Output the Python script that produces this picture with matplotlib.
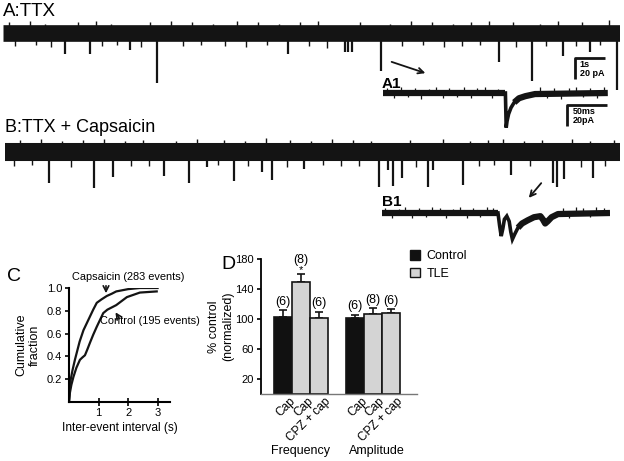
import numpy as np
import matplotlib.pyplot as plt
from matplotlib.patches import Patch

plt.rcParams['font.family'] = ['Liberation Sans', 'DejaVu Sans']

W, H = 624, 461
PPA = 1.05          # pixels per pA in the traces
INK = '#141414'

# ---- trace A: TTX (time s, amplitude pA) ----
a_event_t = [2.07, 2.9, 4.23, 5.13, 9.5, 11.4, 11.5, 11.63, 12.6, 16.53, 17.63, 18.67, 19.57, 20.47]
a_event_amp = [20, 20, 16, 48, 20, 18, 18, 18, 36, 28, 46, 22, 18, 54]
a_small_t = [0.4, 1.1, 1.6, 3.3, 3.8, 4.6, 6.0, 6.6, 7.4, 8.1, 8.8, 10.2, 10.8,
             13.3, 14.0, 14.7, 15.3, 15.9, 17.1, 18.1, 19.1, 19.9]
a_small_amp = [12, 11, 13, 12, 11, 13, 12, 11, 12, 13, 11, 12, 14,
               12, 11, 13, 12, 11, 13, 12, 12, 11]
a_up_t = [0.2, 0.9, 1.4, 2.5, 3.1, 3.6, 4.9, 5.6, 6.3, 7.0, 7.8, 8.5, 9.2, 9.9, 10.5,
          11.9, 12.9, 13.6, 14.3, 15.0, 15.6, 16.2, 17.0, 17.9, 18.5, 19.3, 20.2]
a_up_amp = [10, 11, 9, 10, 11, 9, 10, 11, 10, 9, 11, 10, 9, 10, 11,
            10, 9, 11, 10, 9, 10, 11, 10, 9, 11, 10, 12]

# ---- trace B: TTX + capsaicin ----
b_event_t = [1.47, 2.97, 3.6, 5.3, 6.13, 6.73, 7.63, 8.57, 8.9, 9.97, 12.47, 12.77,
             12.93, 13.23, 14.1, 14.27, 15.27, 16.87, 18.27, 18.4, 18.63, 19.6]
b_event_amp = [30, 34, 24, 23, 30, 14, 28, 19, 27, 16, 33, 17,
               32, 25, 33, 17, 31, 22, 30, 33, 26, 25]
b_small_t = [0.3, 0.9, 2.2, 4.2, 4.8, 7.1, 8.1, 9.4, 10.6, 11.2, 11.8, 13.7,
             15.8, 16.3, 17.5, 19.2, 20.0]
b_small_amp = [13, 12, 14, 13, 13, 12, 13, 14, 12, 13, 13, 14, 13, 12, 13, 14, 13]
b_up_t = [0.5, 1.2, 1.9, 2.6, 3.3, 4.0, 4.6, 5.7, 6.4, 7.3, 8.0, 8.7, 9.5, 10.2,
          10.9, 11.6, 12.2, 13.5, 14.6, 15.5, 16.1, 16.6, 17.3, 17.9, 18.9, 19.5, 20.3]
b_up_amp = [11, 12, 10, 11, 12, 10, 11, 10, 12, 11, 10, 13, 11, 10,
            12, 11, 10, 11, 12, 10, 11, 12, 10, 11, 12, 10, 11]

# ---- expanded sweeps (time ms, current pA) ----
a1_t = [0, 153, 154, 155, 157, 160, 164, 170, 178, 190, 281]
a1_i = [0, 0, -33, -27, -20, -14, -9, -5, -3, -1, 0]
a1_noise_t = [5, 14, 22, 31, 40, 47, 58, 66, 75, 83, 92, 101, 110, 118, 127, 136, 144,
              196, 205, 214, 223, 232, 241, 250, 259, 268, 276]
a1_noise_i = [5, -5, 6, -4, 5, -6, 4, 6, -5, 5, -4, 6, -5, 5, 6, -5, 4,
              6, -5, 5, -6, 5, 6, -4, 5, -5, 6]
b1_t = [0, 145, 147, 149, 151, 153, 156, 159, 161, 163, 166, 170, 175, 182, 190,
        198, 201, 204, 207, 212, 220, 285]
b1_i = [0, 0, -12, -22, -15, -6, -3, -8, -18, -25, -20, -14, -10, -7, -4,
        -3, -6, -10, -8, -4, -1, 0]
b1_noise_t = [4, 12, 21, 29, 38, 46, 55, 63, 72, 80, 89, 97, 106, 114, 123, 131, 139,
              226, 234, 243, 251, 260, 268, 277]
b1_noise_i = [5, -5, 4, 6, -5, 5, -4, 6, 5, -5, 4, 6, -5, 5, -4, 6, 5,
              5, -5, 6, 5, -4, 6, 5]

# ---- panel C: cumulative inter-event intervals ----
cap_x = [0, 0.03, 0.06, 0.12, 0.2, 0.26, 0.36, 0.49, 0.6, 0.71, 0.82, 0.94, 1.1, 1.28,
         1.45, 1.6, 2.0, 2.4, 3.0]
cap_y = [0, 0.12, 0.2, 0.28, 0.37, 0.43, 0.53, 0.63, 0.69, 0.75, 0.81, 0.87, 0.9, 0.93,
         0.95, 0.97, 0.99, 1.0, 1.0]
ctrl_x = [0, 0.03, 0.08, 0.15, 0.25, 0.37, 0.45, 0.54, 0.62, 0.71, 0.82, 0.94, 1.05,
          1.16, 1.3, 1.6, 1.96, 2.4, 2.97]
ctrl_y = [0, 0.08, 0.15, 0.22, 0.3, 0.37, 0.39, 0.41, 0.46, 0.52, 0.59, 0.66, 0.72,
          0.78, 0.81, 0.85, 0.92, 0.96, 0.97]

# ---- panel D: normalized frequency / amplitude ----
bar_labels = ['Cap', 'Cap', 'CPZ + cap', 'Cap', 'Cap', 'CPZ + cap']
bar_means = [103, 149, 102, 101, 107, 108]
bar_errs = [9, 11, 8, 5, 8, 5]
bar_n = ['(6)', '(8)', '(6)', '(6)', '(8)', '(6)']
bar_group = ['Control', 'TLE', 'TLE', 'Control', 'TLE', 'TLE']
group_colors = {'Control': '#111111', 'TLE': '#d4d4d4'}

fig = plt.figure(figsize=(W / 100, H / 100), dpi=100)


def pix_axes(x0, y0, x1, y1):
    return fig.add_axes([x0 / W, 1 - y1 / H, (x1 - x0) / W, (y1 - y0) / H])


def trace_axes(x0, x1, base, ppx_t, up=40, down=70):
    ax = pix_axes(x0, base - up, x1, base + down)
    ax.set_xlim(0, (x1 - x0) / ppx_t)
    ax.set_ylim(-down / PPA, up / PPA)
    ax.axis('off')
    return ax


def draw_sweep(ax, t_end, events, amps, small_t, small_amp, up_t, up_amp, band):
    ax.plot([0, t_end], [0, 0], color=INK, lw=band, solid_capstyle='butt')
    ax.vlines(up_t, 0, up_amp, color=INK, lw=1.0)
    ax.vlines(small_t, 0, -np.array(small_amp), color=INK, lw=1.0)
    ax.vlines(events, 0, -np.array(amps), color=INK, lw=1.6)


def draw_zoom(ax, t, i, noise_t, noise_i, resume):
    # thick noisy band where the sweep sits near baseline, thinner line for the dip
    ax.plot(t[:2], i[:2], color=INK, lw=4.5, solid_capstyle='butt')
    ax.plot(t[resume:], i[resume:], color=INK, lw=4.5, solid_capstyle='butt')
    ax.plot(t[1:resume + 1], i[1:resume + 1], color=INK, lw=2.6, solid_joinstyle='miter')
    ax.vlines(noise_t, 0, noise_i, color=INK, lw=0.9)


def scale_bar(ax, x, y, dx, dy, l1, l2):
    ax.plot([x + dx, x, x], [y, y, y - dy], color=INK, lw=2, clip_on=False,
            solid_capstyle='butt')
    ax.text(x + dx * 0.15, y - dy * 0.3, l1, fontsize=6.5, fontweight='bold', va='center')
    ax.text(x + dx * 0.15, y - dy * 0.75, l2, fontsize=6.5, fontweight='bold', va='center')


def ftext(x, y, s, **kw):
    fig.text(x / W, 1 - y / H, s, **kw)


# trace A
axA = trace_axes(3, 620, 33, 30)
draw_sweep(axA, 20.57, a_event_t, a_event_amp, a_small_t, a_small_amp, a_up_t, a_up_amp, 12)
scale_bar(axA, 19.07, -24, 1, 20, '1s', '20 pA')
ftext(3, 11, 'A:TTX', fontsize=13.5, va='center')

# expanded A1
axA1 = trace_axes(383, 608, 93, 0.8)
draw_zoom(axA1, a1_t, a1_i, a1_noise_t, a1_noise_i, 6)
scale_bar(axA1, 230, -11.5, 50, 20, '50ms', '20pA')
ftext(382, 84, 'A1', fontsize=11, fontweight='bold', va='center')
axA1.annotate('', xy=(428, H - 74), xytext=(389, H - 61), xycoords='figure pixels',
              arrowprops=dict(arrowstyle='->', color=INK, lw=1.3))

# trace B
axB = trace_axes(5, 620, 152, 30)
draw_sweep(axB, 20.5, b_event_t, b_event_amp, b_small_t, b_small_amp, b_up_t, b_up_amp, 13)
ftext(5, 128, 'B:TTX + Capsaicin', fontsize=13, va='center')

# expanded B1
axB1 = trace_axes(382, 610, 213, 0.8)
draw_zoom(axB1, b1_t, b1_i, b1_noise_t, b1_noise_i, 11)
ftext(382, 202, 'B1', fontsize=11, fontweight='bold', va='center')
axB1.annotate('', xy=(527, H - 200), xytext=(543, H - 181), xycoords='figure pixels',
              arrowprops=dict(arrowstyle='->', color=INK, lw=1.3))

# panel C
axC = pix_axes(69, 288, 170, 402)
axC.plot(cap_x, cap_y, color=INK, lw=1.6)
axC.plot(ctrl_x, ctrl_y, color=INK, lw=1.6)
axC.set_xlim(0, 3.42)
axC.set_ylim(0, 1.0)
axC.set_xticks([1, 2, 3])
axC.set_yticks([0.2, 0.4, 0.6, 0.8, 1.0])
axC.set_yticklabels(['0.2', '0.4', '0.6', '0.8', '1.0'])
for s in ['top', 'right']:
    axC.spines[s].set_visible(False)
for s in ['left', 'bottom']:
    axC.spines[s].set_linewidth(1.5)
axC.tick_params(axis='y', length=3, width=1.2, labelsize=8, pad=2)
axC.tick_params(axis='x', direction='inout', length=6, width=1.2, labelsize=8, pad=1)
axC.set_xlabel('Inter-event interval (s)', fontsize=8.6, labelpad=3)
axC.set_ylabel('Cumulative\nfraction', fontsize=9, labelpad=4)
ftext(7, 276, 'C', fontsize=14, va='center')
ftext(72, 277, 'Capsaicin (283 events)', fontsize=7.9, va='center')
ftext(100, 321, 'Control (195 events)', fontsize=7.9, va='center')
axC.annotate('', xy=(106, H - 296), xytext=(106, H - 283), xycoords='figure pixels',
             arrowprops=dict(arrowstyle='->', color=INK, lw=1.2))
axC.annotate('', xy=(114, H - 310), xytext=(121, H - 321), xycoords='figure pixels',
             arrowprops=dict(arrowstyle='->', color=INK, lw=1.2))

# panel D
axD = pix_axes(261, 259, 417, 394)
xpos = np.array([0, 1, 2, 4, 5, 6]) + 1.2
colors = [group_colors[g] for g in bar_group]
axD.bar(xpos, bar_means, width=1.0, color=colors, edgecolor=INK, linewidth=1.2, zorder=2)
axD.errorbar(xpos, bar_means, yerr=[np.zeros(6), bar_errs], fmt='none', ecolor=INK,
             elinewidth=1.2, capsize=3, capthick=1.2, zorder=1)
for i, (x, m, e, n) in enumerate(zip(xpos, bar_means, bar_errs, bar_n)):
    if i == 1:
        axD.text(x, m + e + 5, '*', ha='center', va='center', fontsize=8)
        axD.text(x, m + e + 19, n, ha='center', va='center', fontsize=9)
    else:
        axD.text(x, m + e + 11, n, ha='center', va='center', fontsize=9)
axD.set_xlim(0, 8.67)
axD.set_ylim(0, 180)
axD.set_yticks([20, 60, 100, 140, 180])
axD.set_xticks(xpos + 0.35)
axD.set_xticklabels(bar_labels, rotation=45, ha='right', rotation_mode='anchor', fontsize=8.6)
axD.tick_params(axis='x', length=0, pad=1)
axD.tick_params(axis='y', length=3, width=1.2, labelsize=8, pad=2)
for s in ['top', 'right']:
    axD.spines[s].set_visible(False)
axD.spines['left'].set_linewidth(1.3)
axD.spines['bottom'].set_linewidth(1.0)
axD.spines['bottom'].set_color('#777777')
axD.set_ylabel('% control\n(normalized)', fontsize=9, labelpad=1)
ftext(221, 264, 'D', fontsize=14, va='center')
ftext(300, 451, 'Frequency', fontsize=9, ha='center', va='center')
ftext(377, 451, 'Amplitude', fontsize=9, ha='center', va='center')

handles = [Patch(facecolor=group_colors[g], edgecolor=INK, label=g) for g in ['Control', 'TLE']]
fig.legend(handles=handles, loc='upper left', bbox_to_anchor=(405 / W, 1 - 245 / H),
           frameon=False, fontsize=9, handlelength=0.8, handleheight=0.8,
           handletextpad=0.5, labelspacing=0.45, borderaxespad=0)

fig.savefig('out.png', dpi=100)
